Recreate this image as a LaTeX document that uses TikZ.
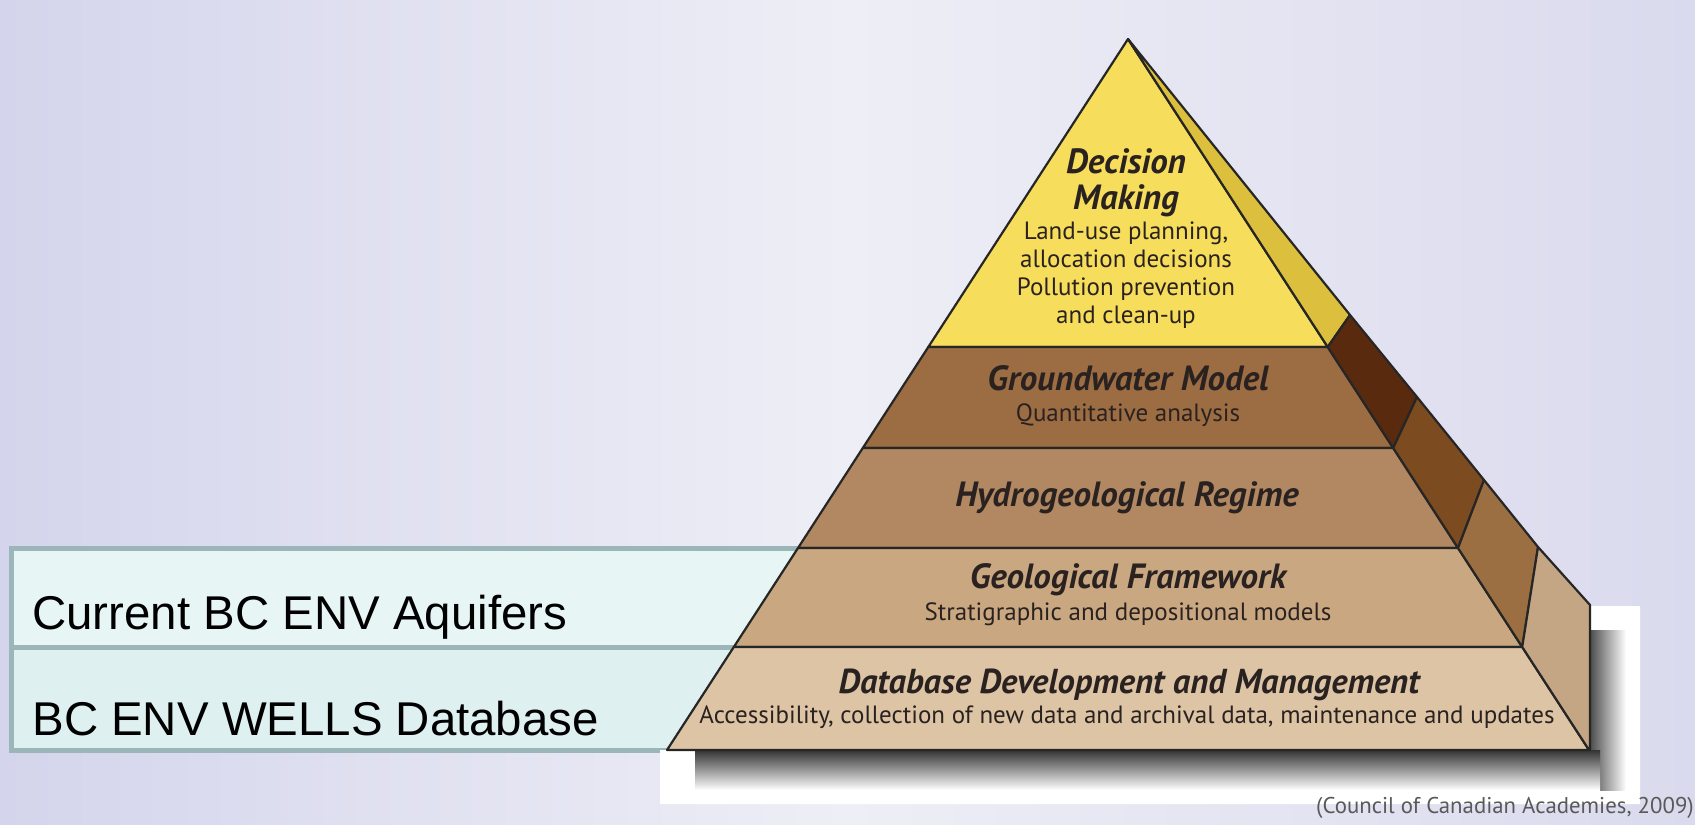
\documentclass[tikz,border=0pt]{standalone}
\usepackage{fontspec}
\newfontfamily\pyrfont{PT Sans}
\newfontfamily\boxfont{Liberation Sans}
\definecolor{bgleft}{HTML}{D4D5EC}
\definecolor{bgmid}{HTML}{EEEEF6}
\definecolor{bgright}{HTML}{DADAEE}
\definecolor{boxline}{HTML}{9BB6B8}
\definecolor{boxfillA}{HTML}{E7F5F5}
\definecolor{boxfillB}{HTML}{DFF0F1}
\definecolor{decfront}{HTML}{F6DD5C}
\definecolor{decside}{HTML}{DCBF3C}
\definecolor{gwfront}{HTML}{9C6C42}
\definecolor{gwside}{HTML}{5A2A0E}
\definecolor{hyfront}{HTML}{B18862}
\definecolor{hyside}{HTML}{7C4B1F}
\definecolor{gefront}{HTML}{C9A781}
\definecolor{geside}{HTML}{9C6F43}
\definecolor{dbfront}{HTML}{DDC4A5}
\definecolor{dbside}{HTML}{C5A684}
\definecolor{inktext}{HTML}{2A2220}
\tikzset{
	layer/.style={draw=black!85, line width=1.1pt, line join=round},
	tagbox/.style={draw=boxline, line width=2.5pt},
	title/.style={font=\pyrfont\fontsize{17.5}{18}\selectfont\bfseries\itshape},
	subtitle/.style={font=\pyrfont\fontsize{12.5}{14}\selectfont}
}

\begin{document}
\begin{tikzpicture}[x=0.5pt, y=-0.5pt]
	\useasboundingbox (0,0) rectangle (1695,824);
	\shade[left color=bgleft, right color=bgright, middle color=bgmid] (0,0) rectangle (1695,824);

	\draw[tagbox, fill=boxfillA] (11,548) rectangle (880,647);
	\draw[tagbox, fill=boxfillB] (11,647) rectangle (880,750);
	\begin{scope}[every node/.style={anchor=base west, inner sep=0pt, font=\boxfont\fontsize{23.7}{28}\selectfont}]
		\node (aquifers) at (32,629) {Current BC ENV Aquifers};
		\node (wells) at (32,735) {BC ENV WELLS Database};
	\end{scope}

	\coordinate (top) at (1128,39);
	\coordinate (l1) at (928.3,347);
	\coordinate (r1) at (1327.7,347);
	\coordinate (l2) at (862.8,448);
	\coordinate (r2) at (1393.2,448);
	\coordinate (l3) at (798,548);
	\coordinate (r3) at (1458,548);
	\coordinate (l4) at (733.8,647);
	\coordinate (r4) at (1522.2,647);
	\coordinate (l5) at (667,750);
	\coordinate (r5) at (1589,750);
	\coordinate (o1) at (1350,315);
	\coordinate (o2) at (1417,397);
	\coordinate (o3) at (1484,480);
	\coordinate (o4) at (1538,547);
	\coordinate (o5) at (1590,605);
	\coordinate (o6) at (1590,750);

	\fill[white] (660,750) -- (660,804) -- (1640,804) -- (1640,606) -- (1590,606) -- (1590,750) -- cycle;
	\shade[left color=black!70, right color=white] (1590,630) rectangle (1626,790);
	\shade[top color=black!80, bottom color=white] (695,750) rectangle (1600,790);

	\filldraw[layer, fill=decfront] (top) -- (l1) -- (r1) -- cycle;
	\filldraw[layer, fill=gwfront] (l1) -- (l2) -- (r2) -- (r1) -- cycle;
	\filldraw[layer, fill=hyfront] (l2) -- (l3) -- (r3) -- (r2) -- cycle;
	\filldraw[layer, fill=gefront] (l3) -- (l4) -- (r4) -- (r3) -- cycle;
	\filldraw[layer, fill=dbfront] (l4) -- (l5) -- (r5) -- (r4) -- cycle;
	\filldraw[layer, fill=decside] (top) -- (r1) -- (o1) -- cycle;
	\filldraw[layer, fill=gwside] (r1) -- (r2) -- (o2) -- (o1) -- cycle;
	\filldraw[layer, fill=hyside] (r2) -- (r3) -- (o3) -- (o2) -- cycle;
	\filldraw[layer, fill=geside] (r3) -- (r4) -- (o4) -- (o3) -- cycle;
	\filldraw[layer, fill=dbside] (r4) -- (r5) -- (o6) -- (o5) -- (o4) -- cycle;

	\begin{scope}[every node/.style={text=inktext, align=center, inner sep=0pt}]
		\node[title] (decision) at (1126,183) {Decision\\Making};
		\node[subtitle] (decisionsub) at (1126,275) {Land-use planning,\\allocation decisions\\Pollution prevention\\and clean-up};
		\node[title] (gwmodel) at (1128,378) {Groundwater Model};
		\node[subtitle] (gwsub) at (1128,415) {Quantitative analysis};
		\node[title] (hydro) at (1127,498) {Hydrogeological Regime};
		\node[title] (geoframe) at (1128,580) {Geological Framework};
		\node[subtitle] (geosub) at (1128,614) {Stratigraphic and depositional models};
		\node[title, font=\pyrfont\fontsize{17.3}{18}\selectfont\bfseries\itshape] (database) at (1129,685) {Database Development and Management};
		\node[subtitle] (dbsub) at (1127,717) {Accessibility, collection of new data and archival data, maintenance and updates};
	\end{scope}

	\node[font=\pyrfont\fontsize{11.4}{13}\selectfont, text=black!65, inner sep=0pt] (source) at (1505,808) {(Council of Canadian Academies, 2009)};
\end{tikzpicture}
\end{document}
